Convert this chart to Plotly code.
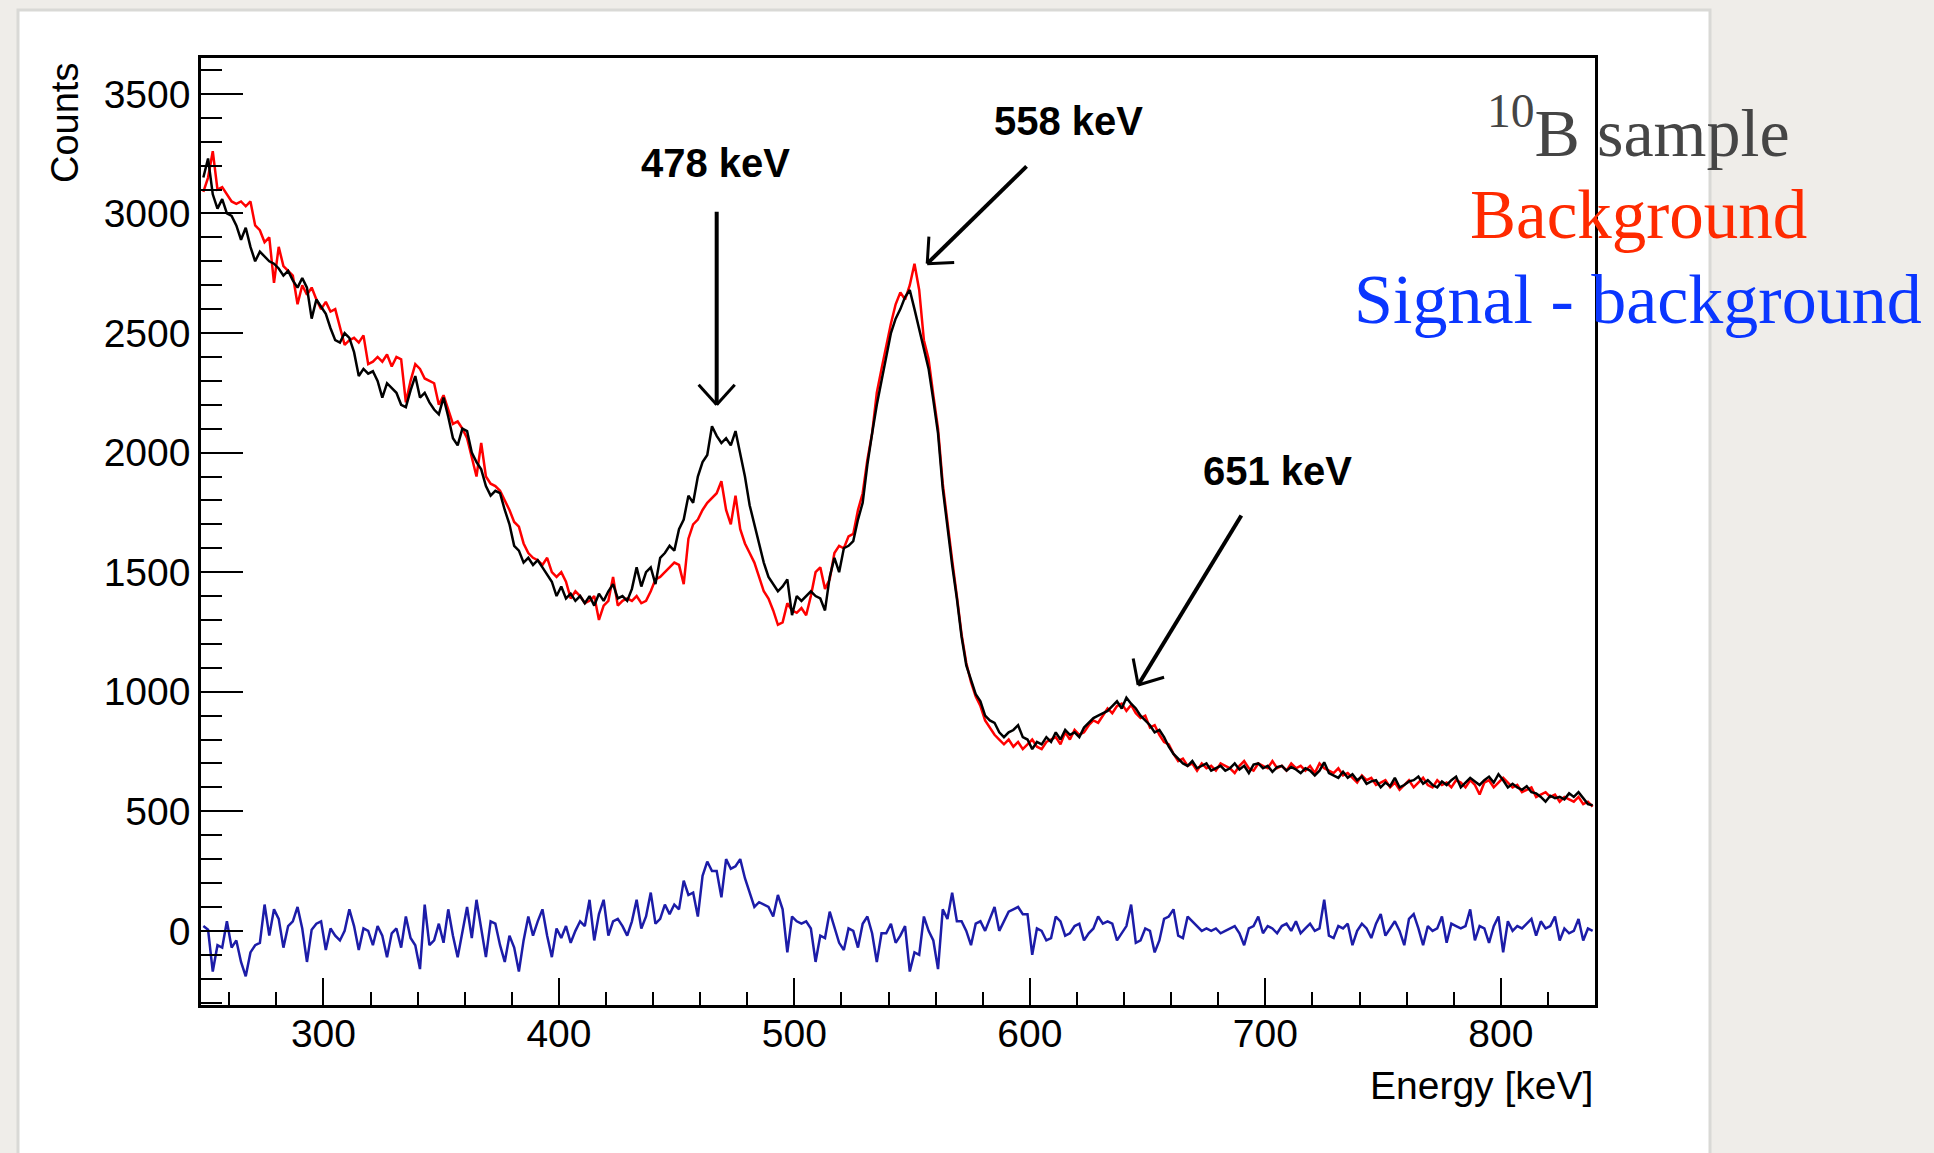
import plotly.graph_objects as go
import math

# ---------------- data (2 keV bins, first bin centre 249 keV) ----------------
E_FIRST = 249
BIN_W = 2

sample_counts = [
    3150, 3230, 3080, 3020, 3060, 3000, 2990, 2950, 2890, 2940,
    2860, 2800, 2840, 2820, 2800, 2790, 2770, 2740, 2760, 2720,
    2690, 2730, 2690, 2560, 2640, 2610, 2580, 2520, 2470, 2460,
    2500, 2480, 2420, 2320, 2350, 2330, 2340, 2300, 2230, 2290,
    2270, 2250, 2200, 2190, 2260, 2320, 2230, 2250, 2210, 2180,
    2160, 2230, 2150, 2060, 2030, 2100, 2090, 2000, 1960, 1930,
    1860, 1820, 1840, 1830, 1760, 1700, 1610, 1590, 1540, 1560,
    1530, 1550, 1520, 1490, 1460, 1400, 1440, 1390, 1410, 1380,
    1400, 1370, 1400, 1360, 1410, 1380, 1420, 1450, 1390, 1400,
    1380, 1430, 1520, 1440, 1500, 1520, 1450, 1560, 1580, 1610,
    1590, 1680, 1720, 1820, 1790, 1900, 1960, 1990, 2110, 2070,
    2040, 2060, 2030, 2090, 1990, 1900, 1780, 1700, 1610, 1540,
    1480, 1450, 1420, 1440, 1470, 1320, 1400, 1380, 1400, 1420,
    1400, 1390, 1340, 1480, 1560, 1500, 1600, 1610, 1630, 1720,
    1790, 1950, 2080, 2200, 2300, 2400, 2500, 2560, 2600, 2650,
    2680, 2600, 2520, 2440, 2350, 2220, 2080, 1850, 1680, 1530,
    1390, 1230, 1110, 1050, 990, 960, 900, 880, 870, 830,
    810, 830, 840, 860, 810, 800, 760, 790, 780, 810,
    790, 830, 800, 840, 820, 830, 810, 850, 870, 890,
    900, 910, 920, 940, 960, 930, 975, 950, 930, 900,
    880, 860, 830, 840, 810, 770, 740, 720, 700, 690,
    710, 680, 690, 700, 670, 680, 690, 670, 680, 700,
    675, 690, 660, 695, 700, 680, 690, 665, 685, 690,
    670, 685, 675, 660, 680, 670, 650, 670, 705, 660,
    650, 640, 665, 640, 655, 630, 645, 615, 625, 630,
    600, 620, 605, 640, 600, 610, 625, 630, 645, 615,
    630, 610, 600, 625, 610, 630, 645, 600, 620, 640,
    625, 610, 630, 645, 620, 655, 630, 600, 615, 600,
    590, 605, 580, 575, 560, 540, 565, 555, 560, 550,
    575, 560, 580, 555, 530, 525,
]

background_counts = [
    3090, 3150, 3260, 3100, 3110, 3080, 3050, 3040, 3050, 3030,
    3050, 2950, 2930, 2880, 2900, 2710, 2860, 2780, 2760, 2740,
    2620, 2700, 2660, 2690, 2640, 2600, 2630, 2590, 2600, 2520,
    2450, 2470, 2480, 2460, 2490, 2370, 2380, 2400, 2380, 2410,
    2360, 2400, 2390, 2210, 2300, 2370, 2350, 2310, 2300, 2290,
    2200, 2240, 2180, 2120, 2130, 2100, 2060, 1980, 1900, 2040,
    1900, 1870, 1860, 1840, 1800, 1760, 1710, 1690, 1620, 1580,
    1560, 1550, 1530, 1560, 1500, 1480, 1500, 1460, 1390, 1420,
    1400, 1370, 1380, 1400, 1300, 1360, 1380, 1480, 1360, 1380,
    1390, 1380, 1400, 1370, 1380, 1420, 1470, 1480, 1500, 1520,
    1540, 1530, 1450, 1640, 1700, 1720, 1760, 1790, 1810, 1830,
    1880, 1760, 1700, 1820, 1680, 1620, 1580, 1540, 1480, 1420,
    1390, 1340, 1280, 1290, 1370, 1340, 1330, 1350, 1320, 1400,
    1500, 1520, 1430, 1470, 1580, 1610, 1600, 1650, 1660, 1760,
    1830, 1970, 2080, 2250, 2350, 2450, 2540, 2620, 2670, 2640,
    2700, 2790, 2680, 2470, 2390, 2240, 2100, 1870, 1700, 1550,
    1400, 1240, 1120, 1040, 980, 940, 880, 850, 820, 800,
    780, 800, 770, 790, 760, 780, 800, 770, 760, 790,
    800, 810, 780, 830, 800, 840, 820, 830, 860, 880,
    870, 900, 930, 910, 940, 950, 920, 945, 910, 890,
    900, 850, 860, 820, 790, 780, 740, 710, 720, 690,
    700, 670, 700, 680, 690, 670, 700, 690, 680, 660,
    690, 710, 680, 670, 700, 690, 680, 710, 680, 690,
    670, 700, 680, 690, 670, 690, 660, 700, 680, 670,
    660, 680, 650, 660, 640, 620, 650, 630, 640, 610,
    620, 630, 600, 620, 590, 610, 630, 600, 620, 640,
    610, 600, 630, 610, 620, 600, 630, 620, 600, 630,
    610, 570, 620, 630, 600, 620, 640, 620, 600, 610,
    580, 590, 600, 560, 570, 580, 560, 570, 540, 560,
    550, 540, 560, 530, 540, 520,
]

difference_counts = [
    20, 5, -170, -60, -70, 40, -70, -40, -130, -190,
    -90, -60, -50, 110, -20, 90, 50, -70, 20, 40,
    100, 10, -130, 5, 30, 40, -80, 10, -20, -40,
    0, 90, 20, -80, 10, 0, -60, 20, -20, -110,
    -10, 10, -70, 60, -30, -60, -160, 110, -60, -40,
    30, -50, 90, -20, -110, 0, 100, -30, 130, 10,
    -110, 40, 30, -60, -130, -20, -70, -170, -40, 60,
    -20, 40, 90, -20, -110, 10, -30, 20, -50, 0,
    40, 20, 130, -40, 70, 130, -20, 40, 50, 20,
    -20, 40, 130, 10, 60, 160, 30, 50, 110, 70,
    110, 90, 210, 150, 160, 60, 230, 290, 250, 250,
    140, 300, 260, 270, 300, 220, 160, 100, 120, 110,
    100, 60, 150, 90, -90, 60, 40, 30, 40, 10,
    -130, -20, -30, 80, 20, -50, -80, 10, 0, -70,
    30, 60, -10, -130, -10, -10, 30, -50, -20, 20,
    -170, -90, -100, 60, 0, -40, -160, 90, 50, 160,
    40, 40, 0, -60, 30, 40, 0, 50, 100, 0,
    40, 80, 90, 100, 70, 70, -100, 10, 0, -40,
    -30, 60, 40, -20, -10, 20, 30, -40, -10, 10,
    60, 30, 40, 30, -40, -10, 20, 110, -50, -40,
    10, 0, -90, -40, 50, 60, 90, -20, -30, 60,
    40, 20, 0, 10, 0, 10, -10, 0, 10, 20,
    -10, -60, 10, 20, 60, -10, 20, 10, -10, 20,
    30, 0, 40, -10, 10, 30, 0, 10, 130, -20,
    -30, 20, 10, 30, -60, 0, 30, 10, -30, 30,
    70, -20, 10, 40, 0, -60, 50, 70, 10, -60,
    20, 0, 10, 60, -50, 30, 20, 10, 20, 90,
    -40, 20, 10, -50, 20, 60, -90, 40, 0, 20,
    10, 30, 50, -20, 40, 10, 20, 60, -40, 10,
    -10, 0, 50, -40, 10, 0,
]

x_tick_values = [300, 400, 500, 600, 700, 800]
y_tick_values = [0, 500, 1000, 1500, 2000, 2500, 3000, 3500]
x_title = "Energy [keV]"
y_title = "Counts"

peak_labels = ["478 keV", "558 keV", "651 keV"]
label_energy = [466.5, 616.5, 705.0]
label_counts = [3212, 3385, 1922]
arrow_tail_energy = [467.0, 598.6, 689.8]
arrow_tail_counts = [3007, 3197, 1737]
arrow_tip_energy = [467.0, 556.4, 646.0]
arrow_tip_counts = [2200, 2790, 1028]

legend_lines = ["<sup>10</sup>B sample", "Background", "Signal - background"]
legend_colors = ["#454545", "#ff2a00", "#0a36ff"]

# ---------------- geometry ----------------
W, H = 1934, 1153
L, R, T, B = 201, 1595, 58, 1005
X_RANGE = [248, 840]
Y_RANGE = [-310, 3650]


def px_x(px):
    return (px - L) / (R - L)


def px_y(py):
    return (B - py) / (B - T)


def energies(n):
    return [E_FIRST + BIN_W * i for i in range(n)]


fig = go.Figure()
fig.add_trace(go.Scatter(x=energies(len(background_counts)), y=background_counts,
                         mode="lines", line=dict(color="#ff0000", width=2.5),
                         name="Background", showlegend=False))
fig.add_trace(go.Scatter(x=energies(len(sample_counts)), y=sample_counts,
                         mode="lines", line=dict(color="#000000", width=2.5),
                         name="10B sample", showlegend=False))
fig.add_trace(go.Scatter(x=energies(len(difference_counts)), y=difference_counts,
                         mode="lines", line=dict(color="#1c1ca8", width=2.5),
                         name="Signal - background", showlegend=False))

shapes = []
# white card on the textured page
shapes.append(dict(type="rect", xref="paper", yref="paper",
                   x0=px_x(18), x1=px_x(1710), y0=px_y(1200), y1=px_y(10),
                   fillcolor="white", line=dict(color="#d9d9d6", width=3),
                   layer="below"))

# hand-drawn style arrows
kx = (R - L) / (X_RANGE[1] - X_RANGE[0])      # px per keV
ky = (B - T) / (Y_RANGE[1] - Y_RANGE[0])      # px per count
for te, tc, he, hc in zip(arrow_tail_energy, arrow_tail_counts,
                          arrow_tip_energy, arrow_tip_counts):
    shapes.append(dict(type="line", xref="x", yref="y", x0=te, y0=tc, x1=he, y1=hc,
                       line=dict(color="black", width=4)))
    dx = (te - he) * kx
    dy = -(tc - hc) * ky
    n = math.hypot(dx, dy)
    ux, uy = dx / n, dy / n
    for ang in (math.radians(42), math.radians(-42)):
        rx = ux * math.cos(ang) - uy * math.sin(ang)
        ry = ux * math.sin(ang) + uy * math.cos(ang)
        ex = he + rx * 27 / kx
        ey = hc - ry * 27 / ky
        shapes.append(dict(type="line", xref="x", yref="y", x0=he, y0=hc, x1=ex, y1=ey,
                           line=dict(color="black", width=3)))

annotations = []
for txt, e, c in zip(peak_labels, label_energy, label_counts):
    annotations.append(dict(x=e, y=c, xref="x", yref="y", text="<b>%s</b>" % txt,
                            showarrow=False, xanchor="center", yanchor="middle",
                            font=dict(family="Liberation Sans", size=40, color="black")))

legend_y = [128, 215, 300]
legend_size = [68, 69, 70]
for txt, col, py, sz in zip(legend_lines, legend_colors, legend_y, legend_size):
    annotations.append(dict(x=px_x(1638), y=px_y(py), xref="paper", yref="paper",
                            text=txt, showarrow=False, xanchor="center", yanchor="middle",
                            font=dict(family="Liberation Serif", size=sz, color=col)))

annotations.append(dict(x=1.0, y=px_y(1085), xref="paper", yref="paper", text=x_title,
                        showarrow=False, xanchor="right", yanchor="middle",
                        font=dict(family="Liberation Sans", size=39, color="black")))
annotations.append(dict(x=px_x(65), y=px_y(123), xref="paper", yref="paper", text=y_title,
                        textangle=-90, showarrow=False, xanchor="center", yanchor="middle",
                        font=dict(family="Liberation Sans", size=38, color="black")))

fig.update_layout(
    width=W, height=H,
    margin=dict(l=L, r=W - R, t=T, b=H - B, pad=0),
    paper_bgcolor="#efede9",
    plot_bgcolor="rgba(0,0,0,0)",
    shapes=shapes,
    annotations=annotations,
    showlegend=False,
    font=dict(family="Liberation Sans", color="black"),
)
fig.update_xaxes(range=X_RANGE, tickvals=x_tick_values, ticks="inside", ticklen=27,
                 tickwidth=2, tickcolor="black", showgrid=False, zeroline=False,
                 showline=True, linecolor="black", linewidth=2.5, mirror=True,
                 ticklabelstandoff=-8,
                 tickfont=dict(family="Liberation Sans", size=39, color="black"),
                 minor=dict(dtick=20, tick0=0, ticks="inside", ticklen=13, tickwidth=2,
                            tickcolor="black", showgrid=False))
fig.update_yaxes(range=Y_RANGE, tickvals=y_tick_values, ticks="inside", ticklen=42,
                 tickwidth=2, tickcolor="black", showgrid=False, zeroline=False,
                 showline=True, linecolor="black", linewidth=2.5, mirror=True,
                 tickfont=dict(family="Liberation Sans", size=39, color="black"),
                 minor=dict(dtick=100, tick0=0, ticks="inside", ticklen=21, tickwidth=2,
                            tickcolor="black", showgrid=False))

fig.write_html("out.html")
